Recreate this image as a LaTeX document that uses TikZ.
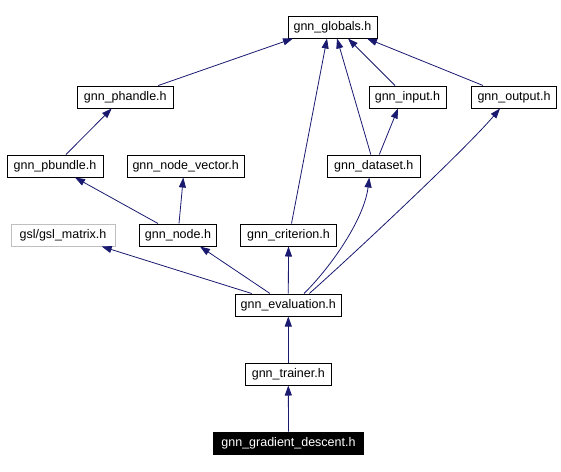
\documentclass[tikz,border=0pt]{standalone}
\usepackage{fontspec}
\setmainfont{Liberation Sans}
\usetikzlibrary{arrows.meta}
\definecolor{edgeblue}{HTML}{191970}
\definecolor{ghostgray}{HTML}{BFBFBF}

\begin{document}
\begin{tikzpicture}[x=1pt, y=-1pt,
    file/.style={draw=black, line width=1pt, fill=white, inner sep=0pt, minimum height=22pt,
        font=\fontsize{12.5}{14}\selectfont},
    extfile/.style={file, draw=ghostgray},
    mainfile/.style={file, fill=black, text=white},
    dep/.style={draw=edgeblue, line width=0.8pt, -{Triangle[length=10pt, width=7pt]}}]
    \useasboundingbox (0,0) rectangle (561,471);

    \node[file, minimum width=89pt] (globals) at (332.5,27) {gnn\_globals.h};
    \node[file, minimum width=96pt] (phandle) at (125.3,97) {gnn\_phandle.h};
    \node[file, minimum width=77pt] (input) at (407.5,97) {gnn\_input.h};
    \node[file, minimum width=85pt] (output) at (514,97) {gnn\_output.h};
    \node[file, minimum width=96pt] (pbundle) at (55,166) {gnn\_pbundle.h};
    \node[file, minimum width=117pt] (nodevector) at (185.7,166) {gnn\_node\_vector.h};
    \node[file, minimum width=93pt] (dataset) at (373.8,166) {gnn\_dataset.h};
    \node[extfile, minimum width=104pt] (gslmatrix) at (63,235) {gsl/gsl\_matrix.h};
    \node[file, minimum width=77pt] (gnnnode) at (178,235) {gnn\_node.h};
    \node[file, minimum width=96pt] (criterion) at (288.5,235) {gnn\_criterion.h};
    \node[file, minimum width=106pt] (evaluation) at (288.3,305) {gnn\_evaluation.h};
    \node[file, minimum width=86pt] (trainer) at (288.3,374) {gnn\_trainer.h};
    \node[mainfile, minimum width=150pt] (gradient) at (288.5,443) {gnn\_gradient\_descent.h};

    \draw[dep] ([xshift=33pt]phandle.north) -- ([xshift=-39.5pt]globals.south);
    \draw[dep] ([xshift=3pt]criterion.north) -- ([xshift=-5.5pt]globals.south);
    \draw[dep] ([xshift=-3pt]dataset.north) -- ([xshift=4.5pt]globals.south);
    \draw[dep] ([xshift=-12.5pt]input.north) -- ([xshift=15.5pt]globals.south);
    \draw[dep] ([xshift=-31pt]output.north) -- ([xshift=34.5pt]globals.south);
    \draw[dep] ([xshift=5.5pt]dataset.north) -- ([xshift=-9.5pt]input.south);
    \draw[dep] ([xshift=11pt]pbundle.north) -- ([xshift=-13.6pt]phandle.south);
    \draw[dep] ([xshift=-20pt]gnnnode.north) -- ([xshift=20pt]pbundle.south);
    \draw[dep] ([xshift=1pt]gnnnode.north) -- ([xshift=-2.4pt]nodevector.south);

    \draw[dep] ([xshift=-36.6pt]evaluation.north) -- ([xshift=38.7pt]gslmatrix.south);
    \draw[dep] ([xshift=-18.3pt]evaluation.north) -- ([xshift=22pt]gnnnode.south);
    \draw[dep] (evaluation.north) -- (criterion.south);
    \draw[dep] ([xshift=15.7pt]evaluation.north) .. controls (330,268) and (364,220) .. ([xshift=-4.5pt]dataset.south);
    \draw[dep] ([xshift=21pt]evaluation.north) .. controls (345,262) and (465,150) .. ([xshift=-14pt]output.south);
    \draw[dep] (trainer.north) -- (evaluation.south);
    \draw[dep] (gradient.north) -- (trainer.south);
\end{tikzpicture}
\end{document}
